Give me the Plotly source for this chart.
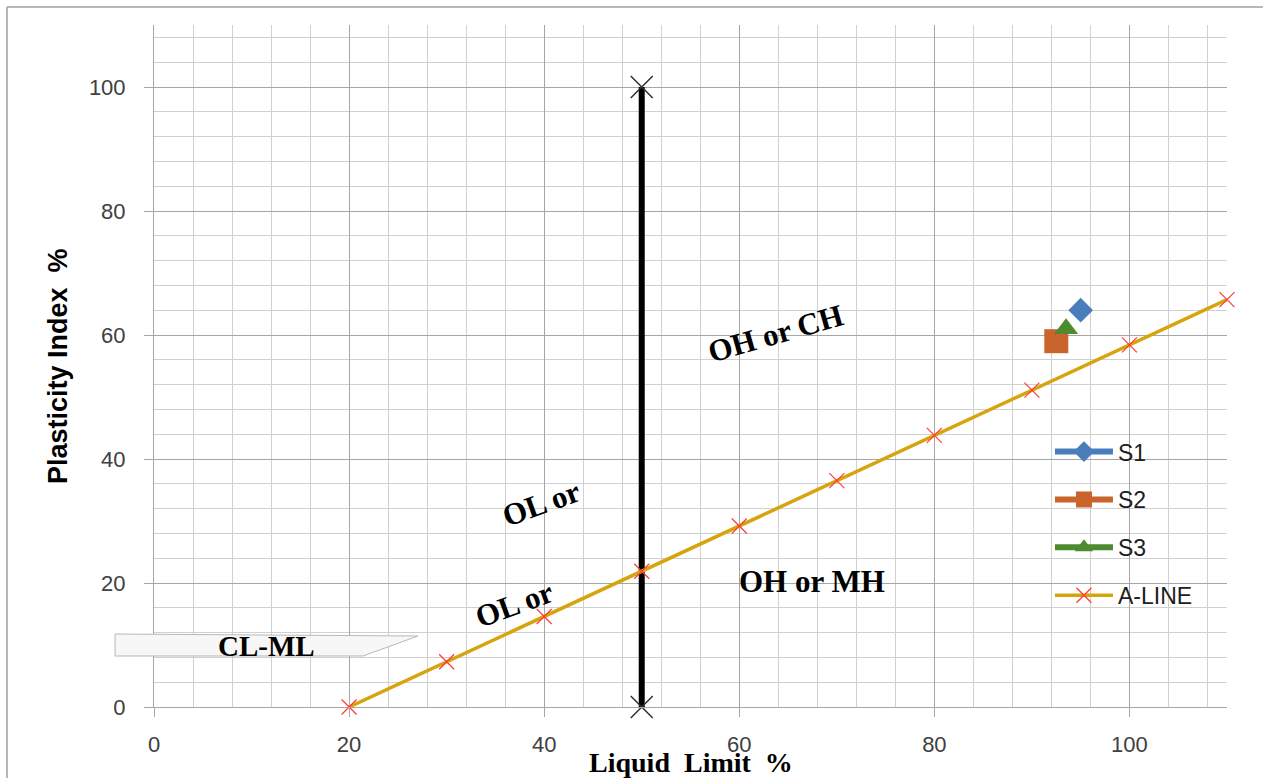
import plotly.graph_objects as go

# Plasticity chart data
a_line_ll = [20, 30, 40, 50, 60, 70, 80, 90, 100, 110]
a_line_pi = [0, 7.3, 14.6, 21.9, 29.2, 36.5, 43.8, 51.1, 58.4, 65.7]

boundary_ll = [50, 50]
boundary_pi = [0, 100]

sample_names = ["S1", "S2", "S3"]
sample_ll = [95, 92.5, 93.5]
sample_pi = [64, 59, 61]

tick_vals = [0, 20, 40, 60, 80, 100]
tick_text = ["0", "20", "40", "60", "80", "100"]

zone_labels = ["OH or CH", "OL or", "OL or", "OH or MH"]
zone_ll = [63.7, 39.7, 36.9, 67.5]
zone_pi = [60.3, 32.9, 16.6, 20.2]
zone_angle = [-16, -20, -20, 0]

sample_colors = ["#4A7EBB", "#C8642C", "#4E8A2E"]
sample_symbols = ["diamond", "square", "triangle-up"]
sample_sizes = [19, 24, 21]

fig = go.Figure()

# vertical LL = 50 boundary
fig.add_trace(go.Scatter(
    x=boundary_ll, y=boundary_pi, mode="lines+markers",
    line=dict(color="black", width=6),
    marker=dict(symbol="x-thin", size=22, line=dict(color="#303030", width=1.5)),
    showlegend=False, hoverinfo="skip", cliponaxis=False))

for i, name in enumerate(sample_names):
    fig.add_trace(go.Scatter(
        x=[sample_ll[i]], y=[sample_pi[i]], mode="lines+markers", name=name,
        line=dict(color=sample_colors[i], width=6),
        marker=dict(symbol=sample_symbols[i], size=sample_sizes[i],
                    color=sample_colors[i]),
        legendgroup=name, cliponaxis=False))

fig.add_trace(go.Scatter(
    x=a_line_ll, y=a_line_pi, mode="lines+markers", name="A-LINE",
    line=dict(color="#D6A40C", width=3.5),
    marker=dict(symbol="x-thin", size=15, line=dict(color="#FF3A3A", width=1.2)),
    legendgroup="A-LINE", cliponaxis=False))

tick_font = dict(family="Liberation Sans, Arial, sans-serif", size=22, color="#404040")
grid_major = "#A6A6A6"
grid_minor = "#D0D0D0"

fig.update_xaxes(
    range=[0, 110], tickvals=tick_vals, ticktext=tick_text,
    showgrid=True, gridcolor=grid_major, gridwidth=1,
    minor=dict(dtick=4, tick0=0, showgrid=True, gridcolor=grid_minor, gridwidth=1),
    ticks="outside", ticklen=9, tickcolor=grid_major, tickwidth=1,
    showline=True, linecolor=grid_major, linewidth=1,
    zeroline=False, tickfont=tick_font, ticklabelstandoff=9)
fig.update_yaxes(
    range=[0, 110], tickvals=tick_vals, ticktext=tick_text,
    showgrid=True, gridcolor=grid_major, gridwidth=1,
    minor=dict(dtick=4, tick0=0, showgrid=True, gridcolor=grid_minor, gridwidth=1),
    ticks="outside", ticklen=9, tickcolor=grid_major, tickwidth=1,
    showline=True, linecolor=grid_major, linewidth=1,
    zeroline=False, tickfont=tick_font, ticklabelstandoff=14)

serif_bold = dict(family="Liberation Serif, Times New Roman, serif", size=31, color="black")

annotations = []
for lbl, lx, ly, ang in zip(zone_labels, zone_ll, zone_pi, zone_angle):
    annotations.append(dict(x=lx, y=ly, xref="x", yref="y", text="<b>%s</b>" % lbl,
                            showarrow=False, textangle=ang, font=serif_bold,
                            xanchor="center", yanchor="middle"))

# CL-ML callout text
annotations.append(dict(x=0.1044, y=0.0894, xref="paper", yref="paper",
                        text="<b>CL-ML</b>", showarrow=False,
                        xanchor="center", yanchor="middle",
                        font=dict(family="Liberation Serif, serif", size=29, color="black")))

# axis titles
annotations.append(dict(x=0.5, y=-0.082, xref="paper", yref="paper",
                        text="<b>Liquid  Limit  %</b>", showarrow=False,
                        xanchor="center", yanchor="middle",
                        font=dict(family="Liberation Serif, serif", size=28, color="black")))
annotations.append(dict(x=-0.0895, y=0.5, xref="paper", yref="paper",
                        text="<b>Plasticity Index  %</b>", showarrow=False, textangle=-90,
                        xanchor="center", yanchor="middle",
                        font=dict(family="Liberation Sans, Arial, sans-serif", size=27, color="black")))

shapes = [
    # CL-ML callout box
    dict(type="path", xref="paper", yref="paper",
         path="M -0.0363,0.107 L 0.246,0.1041 L 0.1948,0.0748 L -0.0363,0.0748 Z",
         fillcolor="#F7F7F7", line=dict(color="#B8B8B8", width=1), layer="above"),
    # white panel behind the legend
    dict(type="rect", xref="paper", yref="paper", x0=0.809, x1=1.012, y0=0.1393, y1=0.4135,
         fillcolor="white", line=dict(width=0), layer="between"),
    # chart outer frame (left and top edges)
    dict(type="line", xref="paper", yref="paper", x0=-0.137, x1=-0.137, y0=-0.2, y1=1.0264,
         line=dict(color="#A0A0A0", width=1.5)),
    dict(type="line", xref="paper", yref="paper", x0=-0.137, x1=1.04, y0=1.0264, y1=1.0264,
         line=dict(color="#A0A0A0", width=1.5)),
]

fig.update_layout(
    width=1263, height=778,
    margin=dict(l=154, r=36, t=25, b=71),
    paper_bgcolor="white", plot_bgcolor="white",
    showlegend=True,
    legend=dict(x=0.835, y=0.406, xanchor="left", yanchor="top",
                bgcolor="rgba(0,0,0,0)", borderwidth=0,
                font=dict(family="Liberation Sans, Arial, sans-serif", size=23, color="#202020"),
                traceorder="grouped", tracegroupgap=15, itemwidth=58),
    annotations=annotations, shapes=shapes,
)

fig.write_html("out.html")
